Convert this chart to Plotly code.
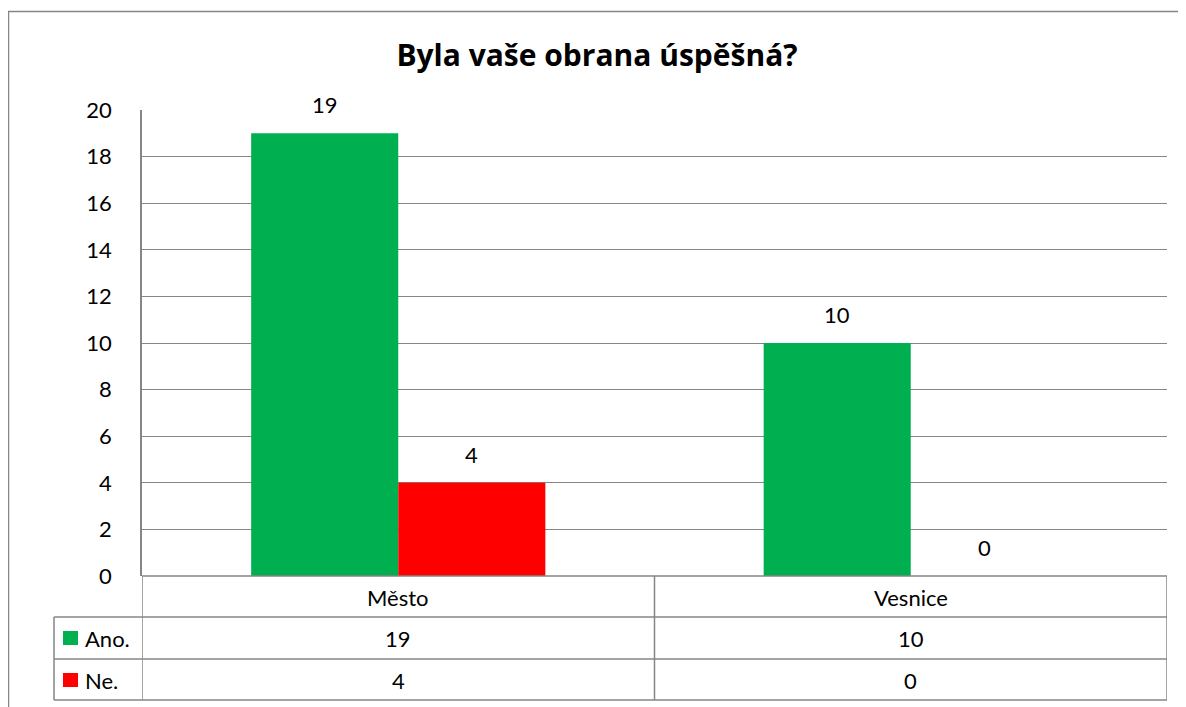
import plotly.graph_objects as go

categories = ["Město", "Vesnice"]
series_names = ["Ano.", "Ne."]
ano_values = [19, 10]
ne_values = [4, 0]
series_values = [ano_values, ne_values]
colors = ["#00B050", "#FF0000"]
title_text = "Byla vaše obrana úspěšná?"
y_tick_vals = list(range(0, 21, 2))

# the page body has an 8px margin; compensate so the figure lands where the reference is
OFF = 8
W, H = 1186 - OFF, 707 - OFF
# plot area in page pixels: x 142..1167, y 110..576
L = 142 - OFF
T = 110 - OFF
R = W - (1167 - OFF)
B = H - (576 - OFF)
pw = W - L - R
ph = H - T - B
FONT = "Lato, Carlito, Calibri, sans-serif"
TFONT = "Open Sans, sans-serif"
GRID = "#868686"
FS = 22


def px_x(px):
    return (px - OFF - L) / pw


def px_y(py):
    return (H - B - (py - OFF)) / ph


bargap = 0.426
barw = (1 - bargap) / 2

fig = go.Figure()
for name, vals, c in zip(series_names, series_values, colors):
    fig.add_bar(x=categories, y=vals, name=name, marker=dict(color=c, line_width=0),
                showlegend=False)

annotations = []
shapes = []

# data labels
for j, vals in enumerate(series_values):
    for i, v in enumerate(vals):
        annotations.append(dict(x=i + (j - 0.5) * barw, y=v, xref="x", yref="y",
                                text=str(v), showarrow=False, yanchor="bottom",
                                xanchor="center", yshift=13,
                                font=dict(size=FS, color="black", family=FONT)))

# data table
row_lines = [617, 659, 700]
line = dict(color=GRID, width=1.5)
shapes.append(dict(type="line", xref="paper", yref="paper", x0=0, x1=1,
                   y0=px_y(576), y1=px_y(576), line=line))
for py in row_lines:
    shapes.append(dict(type="line", xref="paper", yref="paper", x0=px_x(54), x1=1,
                       y0=px_y(py), y1=px_y(py), line=line))
shapes.append(dict(type="line", xref="paper", yref="paper", x0=px_x(54), x1=px_x(54),
                   y0=px_y(617), y1=px_y(700), line=line))
for k in range(len(categories) + 1):
    xb = k - 0.5
    shapes.append(dict(type="line", xref="x", yref="paper", x0=xb, x1=xb,
                       y0=px_y(576), y1=px_y(700), line=line))

for i, cat in enumerate(categories):
    annotations.append(dict(x=i, y=px_y(597), xref="x", yref="paper", text=cat,
                            showarrow=False, xanchor="center", yanchor="middle",
                            font=dict(size=FS, color="black", family=FONT)))
row_centers = [638, 680]
for j, (name, vals, c) in enumerate(zip(series_names, series_values, colors)):
    yc = row_centers[j]
    for i, v in enumerate(vals):
        annotations.append(dict(x=i, y=px_y(yc), xref="x", yref="paper", text=str(v),
                                showarrow=False, xanchor="center", yanchor="middle",
                                font=dict(size=FS, color="black", family=FONT)))
    shapes.append(dict(type="rect", xref="paper", yref="paper", x0=px_x(63), x1=px_x(78),
                       y0=px_y(yc - 7), y1=px_y(yc + 7), fillcolor=c, line_width=0))
    annotations.append(dict(x=px_x(83), y=px_y(yc), xref="paper", yref="paper", text=name,
                            xanchor="left", yanchor="middle", showarrow=False,
                            font=dict(size=FS, color="black", family=FONT)))

# outer chart border
shapes.append(dict(type="rect", xref="paper", yref="paper", x0=px_x(8.5), x1=px_x(1200),
                   y0=px_y(11.5), y1=px_y(730), line=dict(color=GRID, width=1.5),
                   fillcolor="rgba(0,0,0,0)"))

fig.update_layout(
    width=W, height=H,
    margin=dict(l=L, r=R, t=T, b=B),
    paper_bgcolor="white", plot_bgcolor="white",
    barmode="group", bargap=bargap, bargroupgap=0,
    font=dict(family=FONT, color="black", size=FS),
    title=dict(text="<b>" + title_text + "</b>", x=0.5, xanchor="center",
               y=1 - (55 - OFF) / H, yanchor="middle", yref="container",
               font=dict(size=30, family=TFONT, color="black")),
    xaxis=dict(range=[-0.5, 1.5], showticklabels=False, showgrid=False,
               showline=False, zeroline=False, ticks=""),
    yaxis=dict(range=[0, 20], tickvals=y_tick_vals, showgrid=True, gridcolor=GRID,
               gridwidth=1, showline=True, linecolor=GRID, linewidth=1.5,
               zeroline=False, ticks="", ticklabelstandoff=24,
               tickfont=dict(size=FS, color="black", family=FONT)),
    annotations=annotations,
    shapes=shapes,
)

fig.write_html("out.html")
